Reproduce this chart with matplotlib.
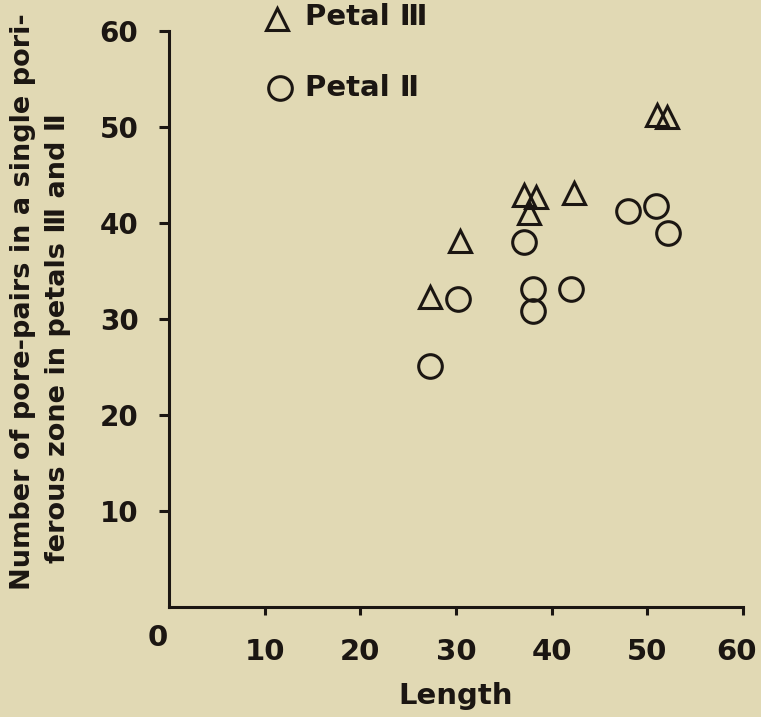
import matplotlib
matplotlib.use("Agg")
import matplotlib.pyplot as plt

# Petal III (triangles) and Petal II (circles): length vs pore-pair count
petal3_length = [27.3, 30.4, 37.1, 38.4, 37.6, 42.3, 51.0, 52.1]
petal3_pairs = [32.3, 38.1, 42.9, 42.7, 41.0, 43.1, 51.3, 51.0]

petal2_length = [27.3, 30.2, 37.1, 38.1, 38.1, 42.0, 48.0, 50.9, 52.2]
petal2_pairs = [25.1, 32.1, 38.0, 33.1, 30.8, 33.1, 41.2, 41.8, 39.0]

ticks = [10, 20, 30, 40, 50, 60]
tick_labels = ["10", "20", "30", "40", "50", "60"]

paper = "#e1d9b4"
ink = "#1b1612"

plt.rcParams["font.family"] = ["DejaVu Sans"]
plt.rcParams["font.weight"] = "bold"

W, H = 761, 717
fig = plt.figure(figsize=(W / 100, H / 100), dpi=100, facecolor=paper)
ax = fig.add_axes([169 / W, (H - 607) / H, (743 - 169) / W, (607 - 31) / H])
ax.set_facecolor(paper)

ax.set_xlim(0, 60)
ax.set_ylim(0, 60)
for side in ("top", "right"):
    ax.spines[side].set_visible(False)
for side in ("left", "bottom"):
    ax.spines[side].set_linewidth(2.2)
    ax.spines[side].set_color(ink)
    ax.spines[side].set_capstyle("projecting")

# the last x label sits inside the right margin, so it is placed separately
ax.set_xticks(ticks)
ax.set_xticklabels(tick_labels[:-1] + [""], fontweight="bold")
ax.set_yticks(ticks)
ax.set_yticklabels(tick_labels, fontweight="bold")
ax.tick_params(axis="y", direction="out", length=7, width=2.2, pad=15,
               labelsize=20, colors=ink)
ax.tick_params(axis="x", direction="out", length=6, width=2.2, pad=16,
               labelsize=21, colors=ink)
ax.annotate(tick_labels[-1], xy=(ticks[-1], 0), xytext=(-5, -22.5),
            textcoords="offset points", ha="center", va="top",
            fontsize=21, fontweight="bold", color=ink,
            annotation_clip=False)

ax.plot(petal3_length, petal3_pairs, linestyle="none", marker="^",
        markersize=16, markerfacecolor="none", markeredgecolor=ink,
        markeredgewidth=2.2, clip_on=False)
ax.plot(petal2_length, petal2_pairs, linestyle="none", marker="o",
        markersize=17, markerfacecolor="none", markeredgecolor=ink,
        markeredgewidth=2.2, clip_on=False)

# shared origin label
ax.annotate("0", xy=(0, 0), xytext=(-8, -22), textcoords="offset points",
            ha="center", va="center", fontsize=21, fontweight="bold",
            color=ink, annotation_clip=False)

# key in the upper-left corner
def px(x, y):
    return x / W, 1 - y / H

fig.lines.append(plt.Line2D([px(277, 19)[0]], [px(277, 19)[1]],
                            transform=fig.transFigure, marker="^",
                            markersize=16, markerfacecolor="none",
                            markeredgecolor=ink, markeredgewidth=2.2))
fig.lines.append(plt.Line2D([px(280, 88)[0]], [px(280, 88)[1]],
                            transform=fig.transFigure, marker="o",
                            markersize=17, markerfacecolor="none",
                            markeredgecolor=ink, markeredgewidth=2.2))
fig.text(*px(305, 17), "Petal \u2162", ha="left", va="center",
         fontsize=21, fontweight="bold", color=ink)
fig.text(*px(305, 88), "Petal \u2161", ha="left", va="center",
         fontsize=21, fontweight="bold", color=ink)

ax.set_xlabel("Length", fontsize=21, fontweight="bold", color=ink,
              labelpad=12)

fig.text(*px(23, 302), "Number of pore-pairs in a single pori-",
         rotation=90, ha="center", va="center", fontsize=19.5,
         fontweight="bold", color=ink)
fig.text(*px(58, 338), "ferous zone in petals \u2162 and \u2161",
         rotation=90, ha="center", va="center", fontsize=19.5,
         fontweight="bold", color=ink)

fig.savefig("out.png", dpi=100, facecolor=paper)
